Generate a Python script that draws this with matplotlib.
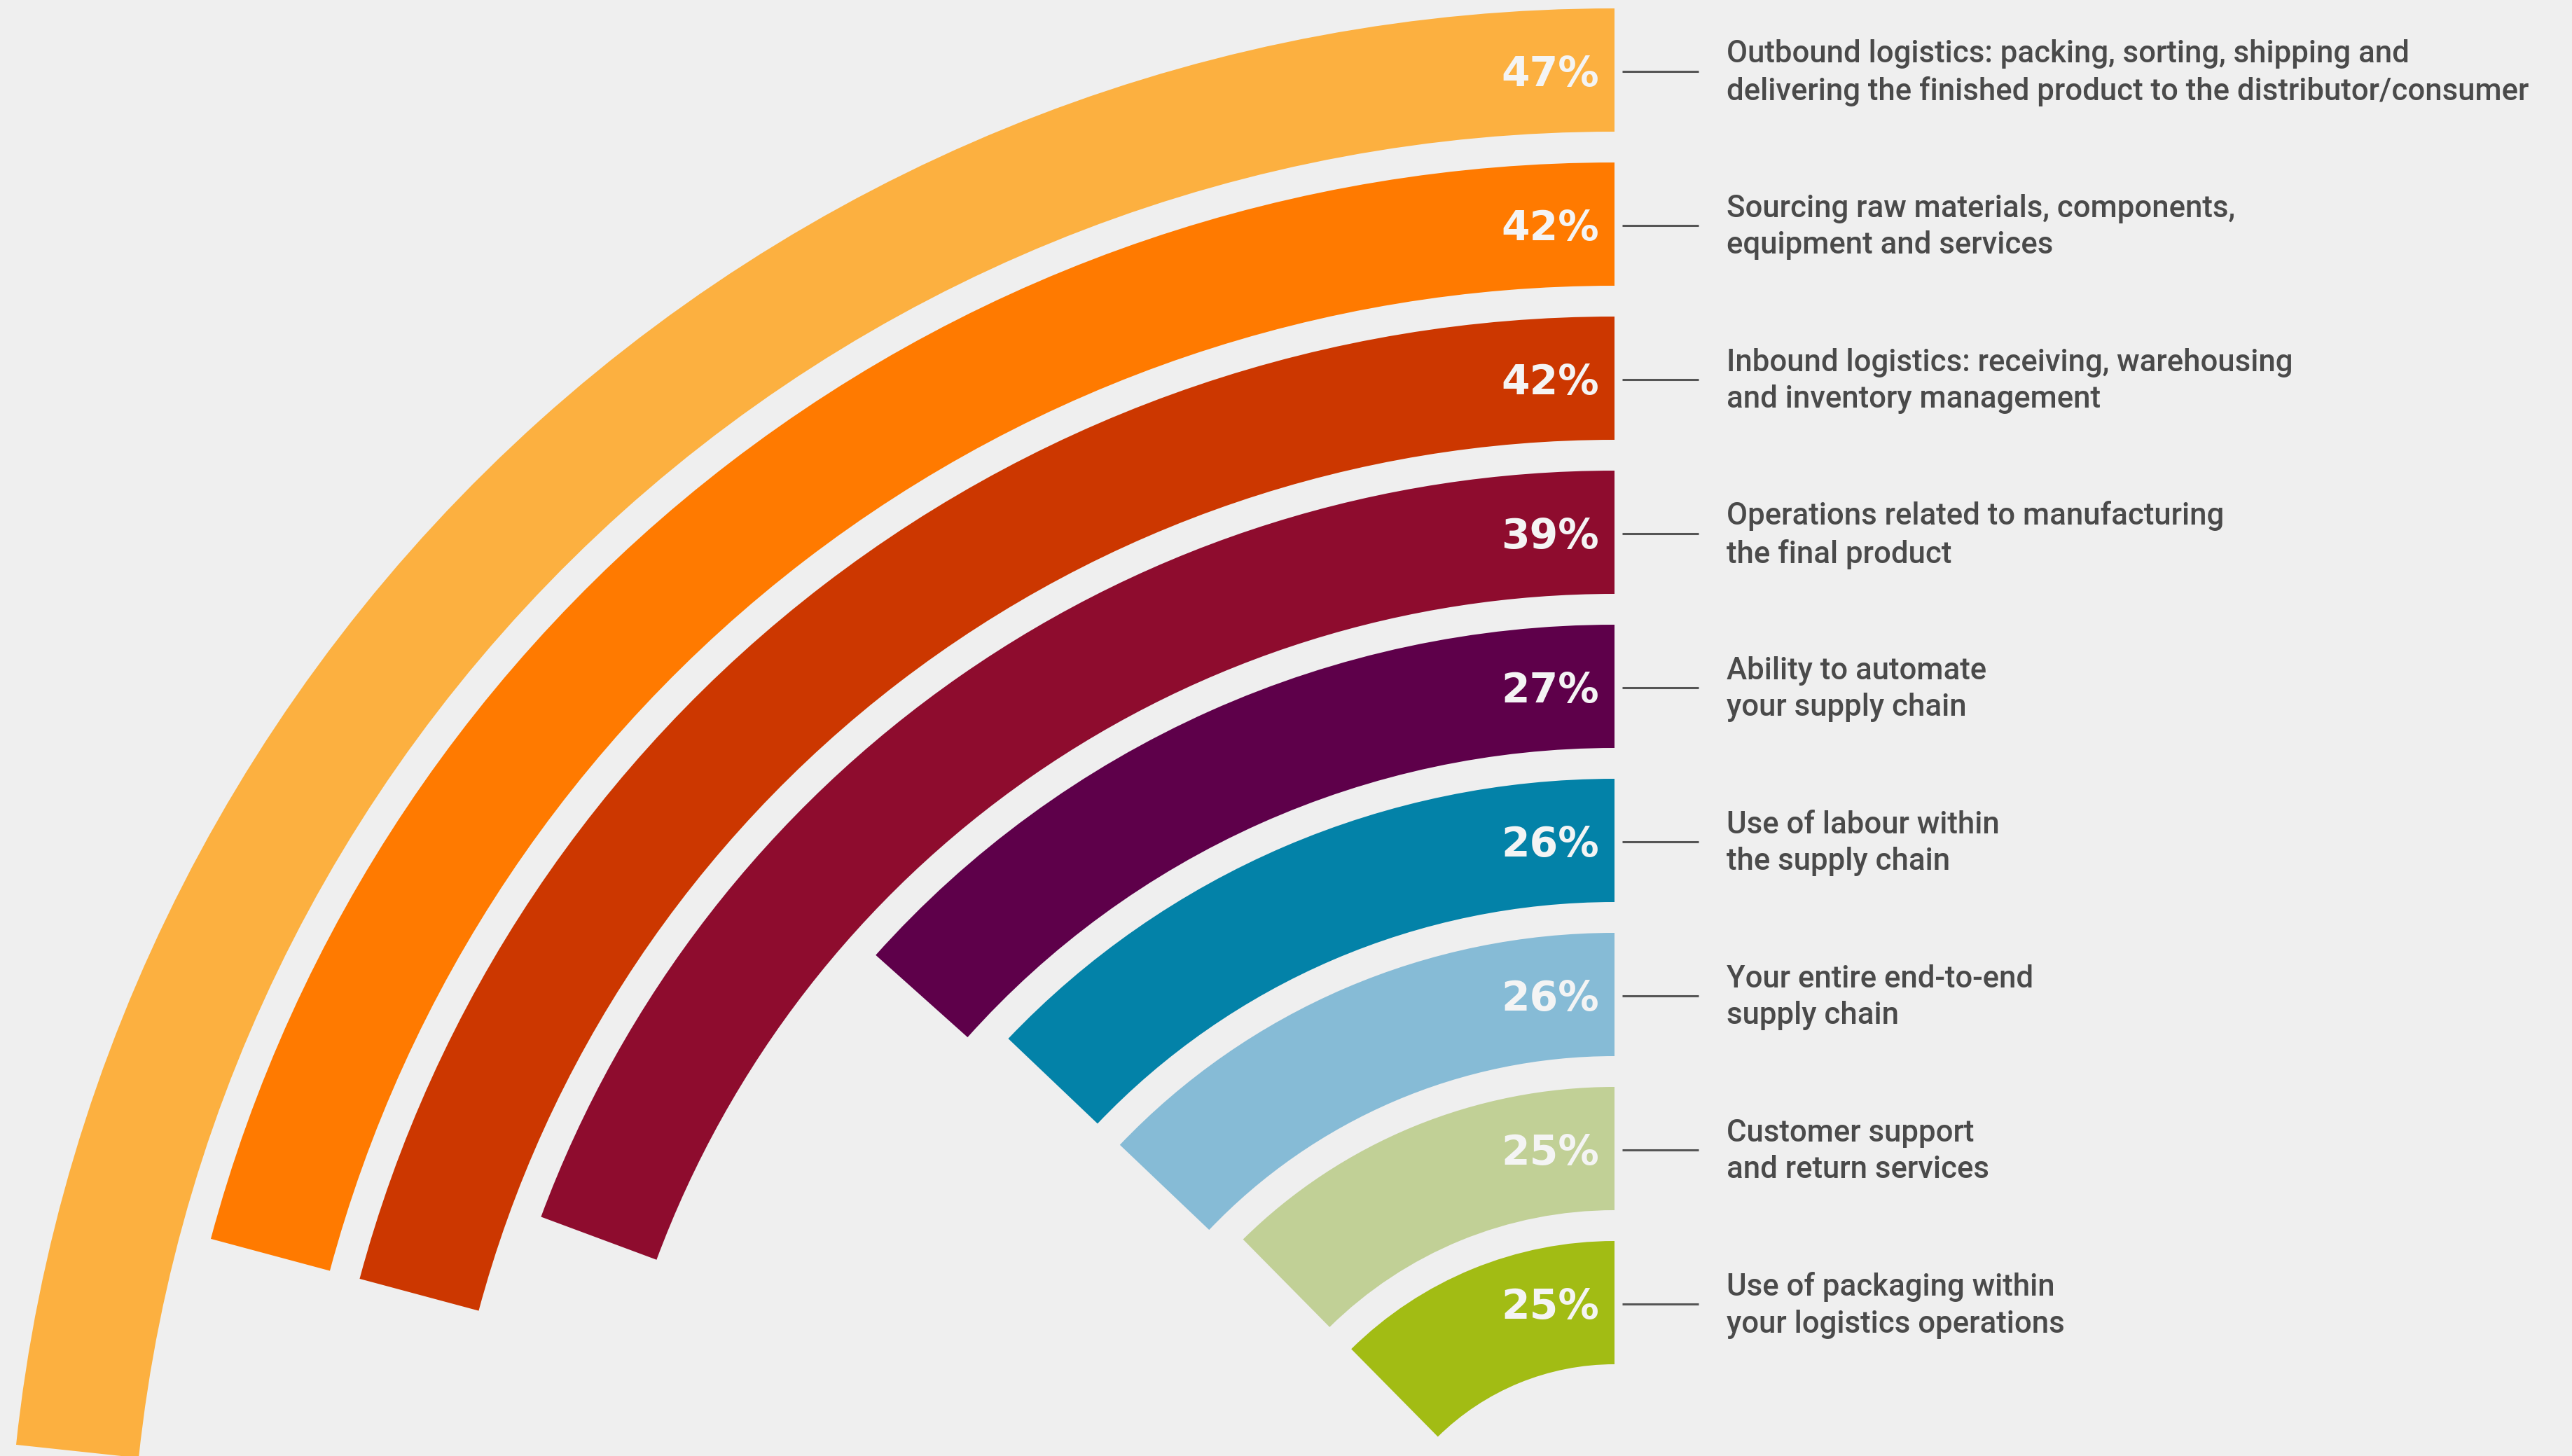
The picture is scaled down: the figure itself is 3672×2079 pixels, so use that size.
import matplotlib.pyplot as plt
from matplotlib.patches import Wedge

# survey results, outermost ring first
values = [47, 42, 42, 39, 27, 26, 26, 25, 25]
labels = [
    "Outbound logistics: packing, sorting, shipping and\ndelivering the finished product to the distributor/consumer",
    "Sourcing raw materials, components,\nequipment and services",
    "Inbound logistics: receiving, warehousing\nand inventory management",
    "Operations related to manufacturing\nthe final product",
    "Ability to automate\nyour supply chain",
    "Use of labour within\nthe supply chain",
    "Your entire end-to-end\nsupply chain",
    "Customer support\nand return services",
    "Use of packaging within\nyour logistics operations",
]
colors = ["#FCB040", "#FF7A00", "#CC3700", "#8E0C2E", "#5E004A",
          "#0382A8", "#86BBD6", "#C1D096", "#A2BC14"]

W, H = 3672, 2079
CX, CY = 2305, H - 2307          # ring centre (below the canvas)
R0 = 2295                        # outer radius of first ring
STEP = 220
THICK = 176
DEG_PER_PCT = 1.785


def main():
    fig = plt.figure(figsize=(W / 100, H / 100), dpi=100)
    fig.patch.set_facecolor("#EFEFEF")
    ax = fig.add_axes([0, 0, 1, 1])
    ax.set_xlim(0, W)
    ax.set_ylim(0, H)
    ax.axis("off")
    ax.set_facecolor("#EFEFEF")

    for i, (v, lab, c) in enumerate(zip(values, labels, colors)):
        r = R0 - STEP * i
        ax.add_patch(Wedge((CX, CY), r, 90, 90 + v * DEG_PER_PCT,
                           width=THICK, facecolor=c, edgecolor="none"))
        ymid = CY + r - THICK / 2
        ax.text(CX - 22, ymid - 7, f"{v}%", ha="right", va="center",
                color="#F4F4F4", fontsize=42, fontweight="bold",
                family=["DejaVu Sans"])
        ax.plot([CX + 11, CX + 120], [ymid - 2, ymid - 2], color="#555555",
                lw=2.2, solid_capstyle="butt")
        ax.text(CX + 160, ymid - 4, lab, ha="left", va="center",
                color="#4A4A4A", fontsize=31.5, linespacing=1.33,
                fontweight="medium", family=["Roboto", "DejaVu Sans"])

    fig.savefig("out.png", dpi=100, facecolor=fig.get_facecolor())


if __name__ == "__main__":
    main()
